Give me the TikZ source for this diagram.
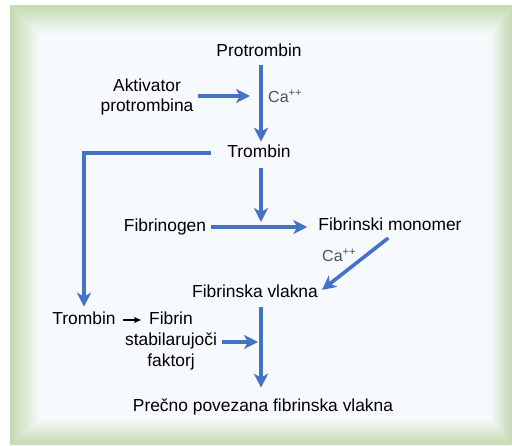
\documentclass[tikz,border=0pt]{standalone}
\usepackage{fontspec}
\setmainfont{Liberation Sans}
\usetikzlibrary{arrows.meta}
\definecolor{arrowblue}{RGB}{68,114,196}
\definecolor{framegreen}{RGB}{196,216,176}
\definecolor{panel}{RGB}{246,250,252}
\definecolor{cagray}{RGB}{80,80,80}
\tikzset{
  lbl/.style={inner sep=0pt, font=\fontsize{17.4}{21}\selectfont, text height=12.5pt, text depth=3.7pt},
  mlbl/.style={inner sep=0pt, align=center},
  calbl/.style={inner sep=0pt, anchor=west, text=cagray, font=\fontsize{16}{19}\selectfont},
  arr/.style={draw=arrowblue, line width=3.6pt, -{Stealth[length=14pt,width=14pt,inset=4pt]}},
  smallarr/.style={draw=black, line width=1.4pt, -{Stealth[length=7pt,width=6pt,inset=1.5pt]}}
}
\begin{document}
\begin{tikzpicture}[x=1pt,y=-1pt]
\useasboundingbox (0,0) rectangle (512,445);
% frame
\fill[white] (0,0) rectangle (512,445);
\fill[panel] (40,35) rectangle (490,418);
\shade[top color=framegreen, bottom color=panel] (10,5) -- (512,5) -- (490,35) -- (40,35) -- cycle;
\shade[left color=framegreen, right color=panel] (10,5) -- (40,35) -- (40,418) -- (10,445) -- cycle;
\shade[right color=framegreen, left color=panel] (512,5) -- (512,445) -- (490,418) -- (490,35) -- cycle;
\shade[bottom color=framegreen, top color=panel] (10,445) -- (512,445) -- (490,418) -- (40,418) -- cycle;

% nodes
\node[lbl] (prot) at (259,52) {Protrombin};
\node[mlbl, font=\fontsize{17.4}{20}\selectfont] (akt) at (147,97) {Aktivator\\protrombina};
\node[calbl] (ca1) at (268,96) {Ca\textsuperscript{++}};
\node[lbl] (trom) at (259,153) {Trombin};
\node[lbl] (fibg) at (165,227) {Fibrinogen};
\node[lbl] (fmon) at (390,226) {Fibrinski monomer};
\node[calbl] (ca2) at (322,255) {Ca\textsuperscript{++}};
\node[lbl] (fvl) at (255,293) {Fibrinska vlakna};
\node[lbl] (trom2) at (84,320) {Trombin};
\node[mlbl, font=\fontsize{17.4}{21}\selectfont] (fsf) at (171,341) {Fibrin\\stabilarujoči\\faktorj};
\node[lbl] (prec) at (263,407) {Prečno povezana fibrinska vlakna};

\coordinate (j1) at (261,96);
\coordinate (j2) at (261,226);
\coordinate (j3) at (261,342);
\coordinate (k) at (141,320);

% connectors
\draw[arr, shorten <=5pt, shorten >=3pt] ([xshift=2pt]prot.south) -- ([xshift=2pt]trom.north);
\draw[arr, shorten <=4pt, shorten >=11pt] (akt.east |- j1) -- (j1);
\draw[arr, shorten <=16pt, shorten >=5pt] (trom.west) -| (trom2.north);
\draw[arr, shorten <=7pt, shorten >=4pt] (trom.south -| j2) -- (j2);
\draw[arr, shorten <=5pt, shorten >=11pt] (fibg.east) -- (fmon.west |- fibg.east);
\draw[arr, shorten <=6pt, shorten >=5pt] ([xshift=3pt]fmon.south) -- (fvl.east);
\draw[arr, shorten <=6pt, shorten >=11pt] (fvl.south -| j2) -- (prec.north -| j2);
\draw[arr, shorten <=5pt, shorten >=3pt] (fsf.east |- j3) -- (j3);
\draw[smallarr, shorten <=7pt] (trom2.east) -- (k);
\end{tikzpicture}
\end{document}
